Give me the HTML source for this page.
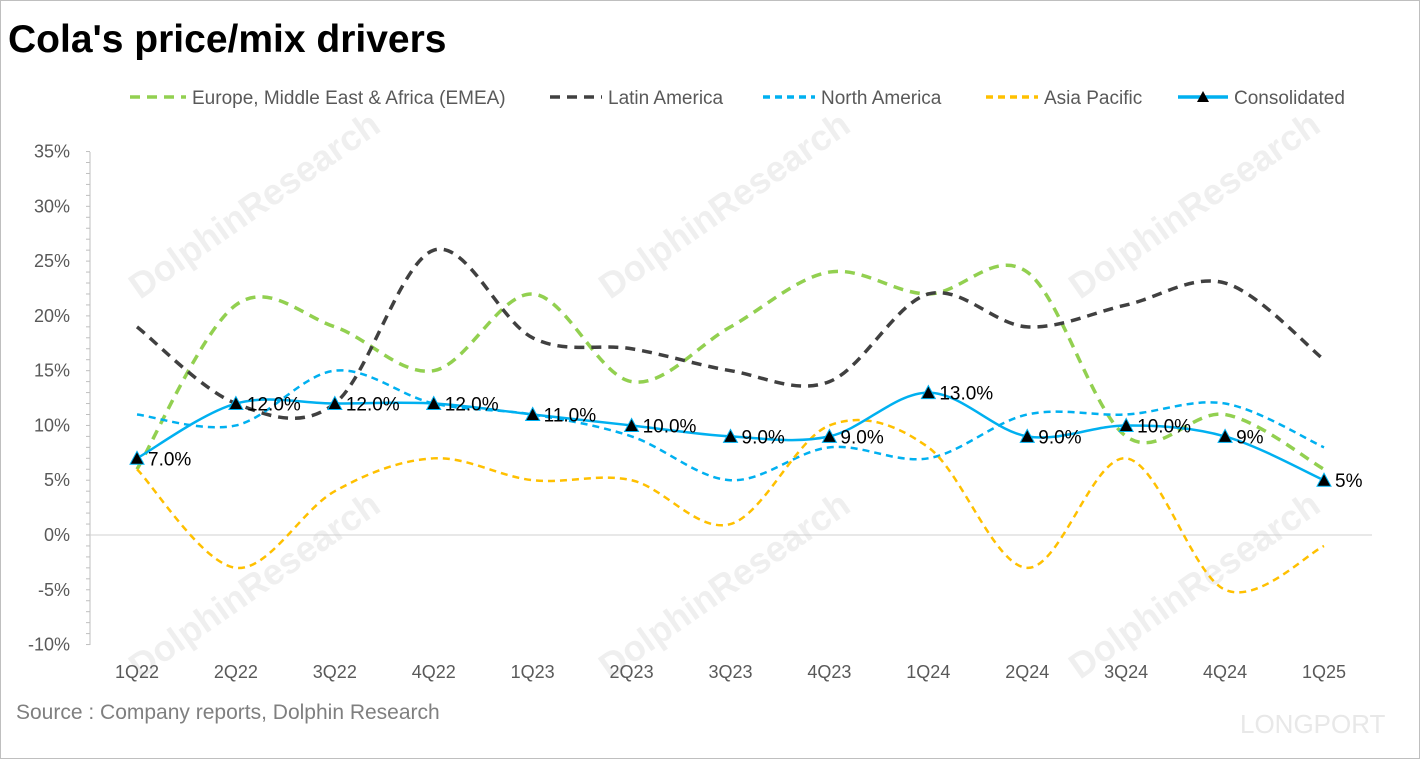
<!DOCTYPE html>
<html><head><meta charset="utf-8"><style>
body{margin:0;background:#fff;}
svg{display:block;font-family:"Liberation Sans",sans-serif;}
</style></head><body>
<svg id="chart" width="1420" height="759" viewBox="0 0 1420 759">
<rect x="0.5" y="0.5" width="1419" height="758" fill="#fff" stroke="#bfbfbf"/>
<text x="8" y="52" font-size="39" font-weight="bold" fill="#000">Cola's price/mix drivers</text>
<g id="wm" fill="#efefef" font-size="36" font-weight="bold"></g>
<g id="legend" font-size="19" fill="#595959"></g>
<g id="axes"></g>
<g id="series"></g>
<text x="16" y="719" font-size="21" fill="#7f7f7f">Source : Company reports, Dolphin Research</text>
<text x="1240" y="733" font-size="26" fill="#e8e8e8">LONGPORT</text>
</svg>
<script>
const categories=["1Q22","2Q22","3Q22","4Q22","1Q23","2Q23","3Q23","4Q23","1Q24","2Q24","3Q24","4Q24","1Q25"];
const emea=[6,21,19,15,22,14,19,24,22,24,9,11,6];
const latam=[19,12,12,26,18,17,15,14,22,19,21,23,16];
const northAmerica=[11,10,15,12,11,9,5,8,7,11,11,12,8];
const asiaPacific=[6,-3,4,7,5,5,1,10,8,-3,7,-5,-1];
const consolidated=[7,12,12,12,11,10,9,9,13,9,10,9,5];
const consLabels=["7.0%","12.0%","12.0%","12.0%","11.0%","10.0%","9.0%","9.0%","13.0%","9.0%","10.0%","9%","5%"];
const yTicks=[35,30,25,20,15,10,5,0,-5,-10];
const NS="http://www.w3.org/2000/svg";
const X=i=>137+i*(1324-137)/12;
const Y=v=>535-v*(645-152)/45;
function mk(tag,attrs,parent){const e=document.createElementNS(NS,tag);for(const k in attrs)e.setAttribute(k,attrs[k]);parent.appendChild(e);return e;}
const axes=document.getElementById('axes');
let a=mk('line',{x1:90,x2:90,y1:152,y2:645,stroke:'#bfbfbf'},axes);


a=mk('line',{x1:90,x2:1372,y1:Y(0),y2:Y(0),stroke:'#d0d0d0'},axes);


for(let v=35;v>=-10;v-=1){mk('line',{x1:86,x2:90,y1:Y(v),y2:Y(v),stroke:'#bfbfbf'},axes);}
yTicks.forEach(v=>{const t=mk('text',{x:70,y:Y(v)+6,'text-anchor':'end','font-size':18,fill:'#595959'},axes);t.textContent=v+'%';

});
categories.forEach((c,i)=>{const t=mk('text',{x:X(i),y:678,'text-anchor':'middle','font-size':18,fill:'#595959'},axes);t.textContent=c;

});
function smooth(vals){const p=vals.map((v,i)=>[X(i),Y(v)]);let d='M'+p[0][0]+','+p[0][1];
for(let i=0;i<p.length-1;i++){const p0=p[i-1]||p[i],p1=p[i],p2=p[i+1],p3=p[i+2]||p2;
const c1=[p1[0]+(p2[0]-p0[0])/6,p1[1]+(p2[1]-p0[1])/6],c2=[p2[0]-(p3[0]-p1[0])/6,p2[1]-(p3[1]-p1[1])/6];
d+=` C${c1[0]},${c1[1]} ${c2[0]},${c2[1]} ${p2[0]},${p2[1]}`;}return d;}
const sg=document.getElementById('series');
const defs=[[emea,'#92d050','10,7','series-emea',3.5],[latam,'#404040','10,7','series-latin-america',3.5],[northAmerica,'#00b0f0','7,5','series-north-america',2.5],[asiaPacific,'#ffc000','7,5','series-asia-pacific',2.5]];
defs.forEach(([vals,col,da,name,w])=>{const p=mk('path',{d:smooth(vals),fill:'none',stroke:col,'stroke-width':w,'stroke-dasharray':da},sg);

});
const cp=mk('path',{d:smooth(consolidated),fill:'none',stroke:'#00b0f0','stroke-width':2.5},sg);


consolidated.forEach((v,i)=>{const x=X(i),y=Y(v);
const m=mk('polygon',{points:`${x},${y-7} ${x-7},${y+6} ${x+7},${y+6}`,fill:'#000',stroke:'#00b0f0','stroke-width':1},sg);


const t=mk('text',{x:x+11,y:y+7,'font-size':19,fill:'#000'},sg);t.textContent=consLabels[i];

});
const lg=document.getElementById('legend');
const items=[[130,186,'#92d050','10,7','Europe, Middle East & Africa (EMEA)'],[550,602,'#404040','10,7','Latin America'],[763,815,'#00b0f0','7,5','North America'],[986,1038,'#ffc000','7,5','Asia Pacific'],[1178,1228,'#00b0f0','','Consolidated']];
items.forEach(([x1,x2,col,da,label])=>{const l=mk('line',{x1:x1,x2:x2,y1:97,y2:97,stroke:col,'stroke-width':3.5,'stroke-dasharray':da},lg);


if(!da){const cx=(x1+x2)/2;mk('polygon',{points:`${cx},${91} ${cx-6},${102} ${cx+6},${102}`,fill:'#000'},lg);}
const t=mk('text',{x:x2+6,y:104},lg);t.textContent=label;

});
const wm=document.getElementById('wm');
[[140,300],[610,300],[1080,300],[140,680],[610,680],[1080,680]].forEach(([x,y])=>{const t=mk('text',{x:x,y:y,transform:`rotate(-35 ${x} ${y})`},wm);t.textContent='DolphinResearch';

});
</script>
</body></html>
